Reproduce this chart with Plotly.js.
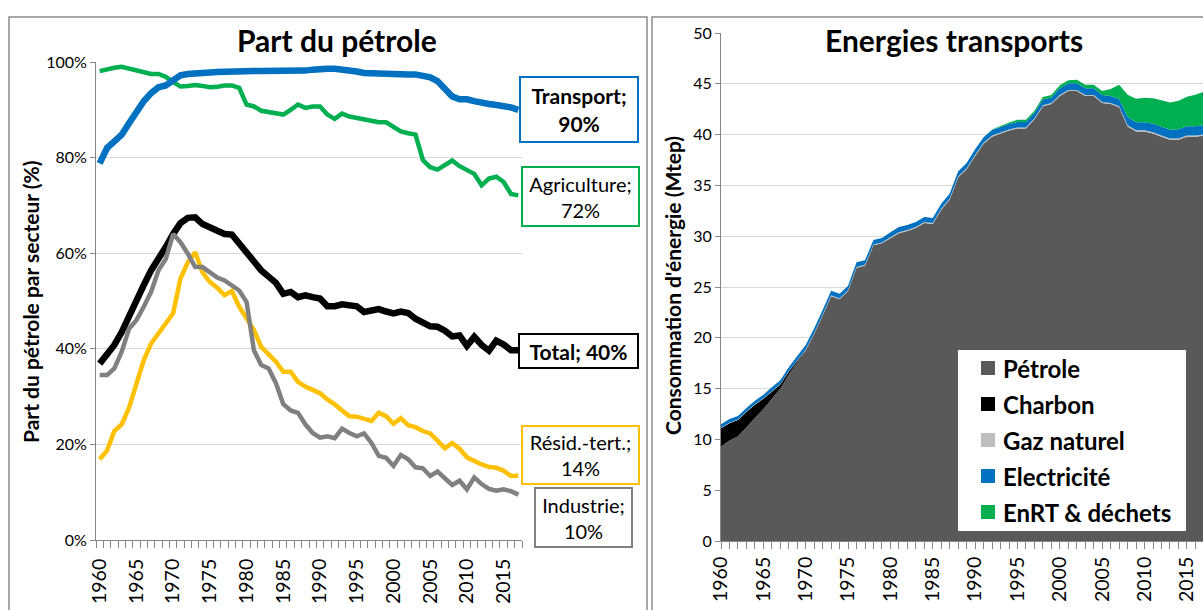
<!DOCTYPE html>
<html><head><meta charset="utf-8">
<script src="https://cdn.plot.ly/plotly-3.0.1.min.js"></script>
<style>html,body{margin:0;padding:0;overflow:hidden;background:#fff}#chart{width:1203px;height:610px}</style>
</head><body><div id="chart"></div>
<script>
// ---------- DATA ----------
const years = [];
for (let y = 1960; y <= 2017; y++) years.push(y);
const tickYears = [1960,1965,1970,1975,1980,1985,1990,1995,2000,2005,2010,2015];

// Left chart : part du pétrole par secteur (%)
const transport = [78.8,82.0,83.4,84.8,87.2,89.7,91.8,93.5,94.7,95.1,96.0,97.2,97.5,97.7,97.8,97.8,97.9,98.0,98.0,98.0,98.1,98.1,98.1,98.1,98.0,98.0,98.0,98.1,98.2,98.4,98.6,98.6,98.6,98.5,98.3,98.0,97.7,97.6,97.6,97.6,97.5,97.5,97.4,97.4,97.2,96.8,96.0,94.5,92.8,92.2,92.2,91.8,91.4,91.2,91.0,90.8,90.5,90.0];
const agriculture = [98.1,98.5,98.8,99.0,98.6,98.2,98.0,97.5,97.5,96.9,95.8,94.9,95.0,95.2,95.0,94.7,94.8,95.1,95.1,94.6,91.1,90.7,89.8,89.6,89.2,89.0,90.0,91.1,90.4,90.7,90.7,89.0,88.1,89.2,88.6,88.3,88.1,87.9,87.4,87.4,86.5,85.5,85.1,84.8,79.5,78.0,77.5,78.5,79.4,78.2,77.4,76.6,74.2,75.6,76.0,74.9,72.4,72.1];
const total = [36.9,38.7,40.8,43.5,47.0,50.1,53.3,56.4,59.2,61.3,64.0,66.3,67.4,67.5,66.1,65.4,64.9,64.0,63.9,61.9,60.4,58.1,56.4,55.1,53.8,51.5,51.9,50.8,51.2,50.8,50.5,48.9,48.9,49.3,49.2,48.9,47.7,48.1,48.3,47.8,47.4,47.8,47.5,46.3,45.6,44.7,44.6,43.8,42.6,42.8,40.6,42.5,40.8,39.6,41.7,40.9,39.7,39.7];
const residTert = [16.9,18.7,22.8,24.2,27.7,33.0,37.6,41.1,43.2,45.3,47.4,54.7,58.1,60.2,56.0,54.0,52.8,51.2,52.1,48.8,46.3,43.9,40.4,38.7,37.3,35.2,35.2,33.1,32.1,31.4,30.7,29.4,28.4,27.1,25.9,25.8,25.4,24.9,26.6,25.9,24.3,25.5,24.0,23.6,22.8,22.3,20.8,19.2,20.3,19.1,17.3,16.5,15.8,15.3,15.1,14.5,13.4,13.5];
const industrie = [34.5,34.5,35.9,39.4,44.2,46.0,48.8,51.9,56.4,58.8,64.0,62.3,59.9,57.1,57.1,56.0,54.9,54.3,53.3,52.2,49.8,39.7,36.6,35.9,32.8,28.4,27.1,26.6,24.2,22.4,21.4,21.7,21.3,23.3,22.4,21.7,22.3,20.3,17.6,17.2,15.5,17.8,16.9,15.2,15.0,13.4,14.3,12.9,11.5,12.4,10.6,13.1,11.7,10.7,10.3,10.6,10.2,9.5];
const lineLabels = ['Transport; 90%','Agriculture; 72%','Total; 40%','Résid.-tert.; 14%','Industrie; 10%'];

// Right chart : énergies transports (Mtep)
const petrole = [9.3,9.9,10.3,11.2,12.1,13.0,14.0,15.0,16.4,17.6,18.7,20.4,22.2,24.1,23.8,24.6,26.9,27.1,29.1,29.3,29.8,30.3,30.5,30.8,31.3,31.2,32.6,33.6,35.8,36.6,37.9,39.1,39.8,40.1,40.4,40.6,40.6,41.5,42.8,43.0,43.8,44.3,44.3,43.8,43.8,43.1,43.0,42.7,40.8,40.3,40.3,40.1,39.8,39.5,39.5,39.8,39.8,39.9];
const charbon = [1.8,1.7,1.6,1.5,1.3,1.0,0.7,0.4,0.25,0.15,0.05,0,0,0,0,0,0,0,0,0,0,0,0,0,0,0,0,0,0,0,0,0,0,0,0,0,0,0,0,0,0,0,0,0,0,0,0,0,0,0,0,0,0,0,0,0,0,0];
const gaz = [0.05,0.05,0.05,0.05,0.05,0.05,0.05,0.05,0.05,0.05,0.08,0.08,0.08,0.08,0.08,0.08,0.08,0.08,0.08,0.08,0.1,0.1,0.1,0.1,0.1,0.1,0.1,0.1,0.1,0.1,0.1,0.1,0.1,0.1,0.1,0.1,0.1,0.1,0.1,0.1,0.1,0.1,0.1,0.1,0.1,0.1,0.1,0.1,0.12,0.12,0.12,0.12,0.12,0.12,0.12,0.12,0.12,0.12];
const electricite = [0.35,0.35,0.35,0.35,0.35,0.35,0.38,0.38,0.4,0.4,0.45,0.45,0.45,0.45,0.45,0.45,0.45,0.45,0.45,0.45,0.5,0.5,0.5,0.5,0.5,0.5,0.5,0.5,0.5,0.5,0.55,0.55,0.55,0.55,0.55,0.55,0.55,0.55,0.55,0.55,0.65,0.65,0.65,0.65,0.65,0.7,0.7,0.7,0.8,0.8,0.8,0.85,0.85,0.85,0.9,0.9,0.9,0.9];
const enrt = [0,0,0,0,0,0,0,0,0,0,0,0,0,0,0,0,0,0,0,0,0,0,0,0,0,0,0,0,0,0,0,0,0.05,0.1,0.15,0.2,0.2,0.2,0.25,0.25,0.3,0.3,0.35,0.35,0.35,0.4,0.7,1.4,2.2,2.3,2.4,2.5,2.6,2.7,2.8,2.9,3.1,3.3];
const energyNames = ['Pétrole','Charbon','Gaz naturel','Electricité','EnRT & déchets'];

// ---------- STYLE ----------
const W = 1203, H = 610;
const X = v => v / W, Y = v => 1 - v / H;
const FONT = 'Lato, "Open Sans", sans-serif';
const AX = '#868686', GRID = '#D9D9D9';
const energyColors = ['#595959','#000000','#BFBFBF','#0070C0','#00B050'];

const traces = [];
const lineSeries = [
  {y: agriculture, c: '#00B050', w: 4.5},
  {y: transport, c: '#0070C0', w: 6.5},
  {y: total, c: '#000000', w: 6.5},
  {y: residTert, c: '#FFC000', w: 4.5},
  {y: industrie, c: '#808080', w: 4.5}
];
lineSeries.forEach(s => traces.push({
  x: years, y: s.y, xaxis: 'x', yaxis: 'y', type: 'scatter', mode: 'lines',
  line: {color: s.c, width: s.w}, showlegend: false, hoverinfo: 'skip'
}));
[petrole, charbon, gaz, electricite, enrt].forEach((arr, i) => traces.push({
  x: years, y: arr, xaxis: 'x2', yaxis: 'y2', type: 'scatter', mode: 'none',
  stackgroup: 'e', fillcolor: energyColors[i], name: energyNames[i],
  showlegend: false, hoverinfo: 'skip'
}));

const baseTick = {size: 16, color: '#000', family: FONT};
const xTick = {size: 19.5, color: '#000', family: FONT};
const layout = {
  width: W, height: H, margin: {l: 0, r: 0, t: 0, b: 0},
  paper_bgcolor: '#fff', plot_bgcolor: '#fff', showlegend: false, hovermode: false,
  font: {family: FONT, color: '#000'},
  xaxis: {
    domain: [X(96), X(522)], range: [1959.5, 2017.5], tickmode: 'array', tickvals: tickYears,
    ticks: '', tickangle: -90, tickfont: xTick,
    ticklabelstandoff: 10, showline: true, linecolor: AX, linewidth: 1, showgrid: false, zeroline: false,
    minor: {tickmode: 'linear', tick0: 1959.5, dtick: 1, ticks: 'outside', ticklen: 7, tickcolor: AX, showgrid: false}
  },
  yaxis: {
    domain: [Y(540), Y(62)], range: [0, 100], tickmode: 'linear', tick0: 0, dtick: 20, ticksuffix: '%',
    ticks: 'outside', ticklen: 5, tickcolor: AX, tickfont: baseTick, showline: true, linecolor: AX,
    linewidth: 1, gridcolor: GRID, gridwidth: 1, zeroline: false
  },
  xaxis2: {
    anchor: 'y2', domain: [X(721), 1], range: [1960, 2016.9], tickmode: 'array', tickvals: tickYears,
    ticks: 'outside', ticklen: 7, tickcolor: AX, tickangle: -90, tickfont: xTick,
    showline: true, linecolor: AX, linewidth: 1, showgrid: false, zeroline: false,
    minor: {tickmode: 'linear', tick0: 1960, dtick: 1, ticks: 'outside', ticklen: 7, tickcolor: AX, showgrid: false}
  },
  yaxis2: {
    anchor: 'x2', domain: [Y(541), Y(33)], range: [0, 50], tickmode: 'linear', tick0: 0, dtick: 5,
    ticks: 'outside', ticklen: 5, tickcolor: AX, tickfont: baseTick, showline: true, linecolor: AX,
    linewidth: 1, gridcolor: GRID, gridwidth: 1, zeroline: false
  },
  shapes: [
    {type: 'rect', xref: 'paper', yref: 'paper', x0: X(9), x1: X(647), y0: Y(17), y1: Y(660), line: {color: '#8C8C8C', width: 1.5}},
    {type: 'rect', xref: 'paper', yref: 'paper', x0: X(652), x1: X(1260), y0: Y(17), y1: Y(660), line: {color: '#8C8C8C', width: 1.5}},
    {type: 'rect', xref: 'paper', yref: 'paper', x0: X(958), x1: X(1186), y0: Y(531), y1: Y(350), fillcolor: '#fff', line: {width: 0}}
  ],
  annotations: [
    {xref: 'paper', yref: 'paper', x: X(337), y: Y(40), text: '<b>Part du pétrole</b>', showarrow: false,
     xanchor: 'center', yanchor: 'middle', font: {size: 30, family: FONT, color: '#000'}},
    {xref: 'paper', yref: 'paper', x: X(954), y: Y(40), text: '<b>Energies transports</b>', showarrow: false,
     xanchor: 'center', yanchor: 'middle', bgcolor: '#fff', borderpad: 0, font: {size: 30, family: FONT, color: '#000'}},
    {xref: 'paper', yref: 'paper', x: X(30), y: Y(302), text: '<b>Part du pétrole par secteur (%)</b>', textangle: -90,
     showarrow: false, xanchor: 'center', yanchor: 'middle', font: {size: 21, family: FONT, color: '#000'}},
    {xref: 'paper', yref: 'paper', x: X(673), y: Y(286), text: "<b>Consommation d'énergie (Mtep)</b>", textangle: -90,
     showarrow: false, xanchor: 'center', yanchor: 'middle', font: {size: 21, family: FONT, color: '#000'}}
  ]
};

// label boxes for the left chart
const boxes = [
  {t: '<b>' + lineLabels[0].replace(' ', '<br>') + '</b>', cx: 579, cy: 109, w: 120, h: 67, c: '#0070C0', s: 21},
  {t: lineLabels[1].replace(' ', '<br>'), cx: 580.5, cy: 196, w: 119, h: 61, c: '#00B050', s: 20},
  {t: '<b>' + lineLabels[2] + '</b>', cx: 578.5, cy: 350.5, w: 121, h: 36, c: '#000000', s: 21},
  {t: lineLabels[3].replace(' ', '<br>'), cx: 580.5, cy: 455, w: 119, h: 60, c: '#FFC000', s: 20},
  {t: lineLabels[4].replace(' ', '<br>'), cx: 583.5, cy: 517, w: 99, h: 61, c: '#808080', s: 20}
];
boxes.forEach(b => layout.annotations.push({
  xref: 'paper', yref: 'paper', x: X(b.cx), y: Y(b.cy), text: b.t, showarrow: false,
  xanchor: 'center', yanchor: 'middle', align: 'center', bgcolor: '#fff',
  bordercolor: b.c, borderwidth: 2, borderpad: 0, width: b.w - 4, height: b.h - 4,
  font: {size: b.s, family: FONT, color: '#000'}
}));

// legend of the right chart
const legY = [368, 404, 440, 476, 512];
energyNames.forEach((n, i) => {
  layout.shapes.push({type: 'rect', xref: 'paper', yref: 'paper', x0: X(981), x1: X(995),
    y0: Y(legY[i] + 7), y1: Y(legY[i] - 7), fillcolor: energyColors[i], line: {width: 0}});
  layout.annotations.push({xref: 'paper', yref: 'paper', x: X(1001), y: Y(legY[i]), text: '<b>' + n + '</b>',
    showarrow: false, xanchor: 'left', yanchor: 'middle', font: {size: 24, family: FONT, color: '#000'}});
});

Plotly.newPlot('chart', traces, layout, {staticPlot: true, displayModeBar: false});
</script></body></html>
